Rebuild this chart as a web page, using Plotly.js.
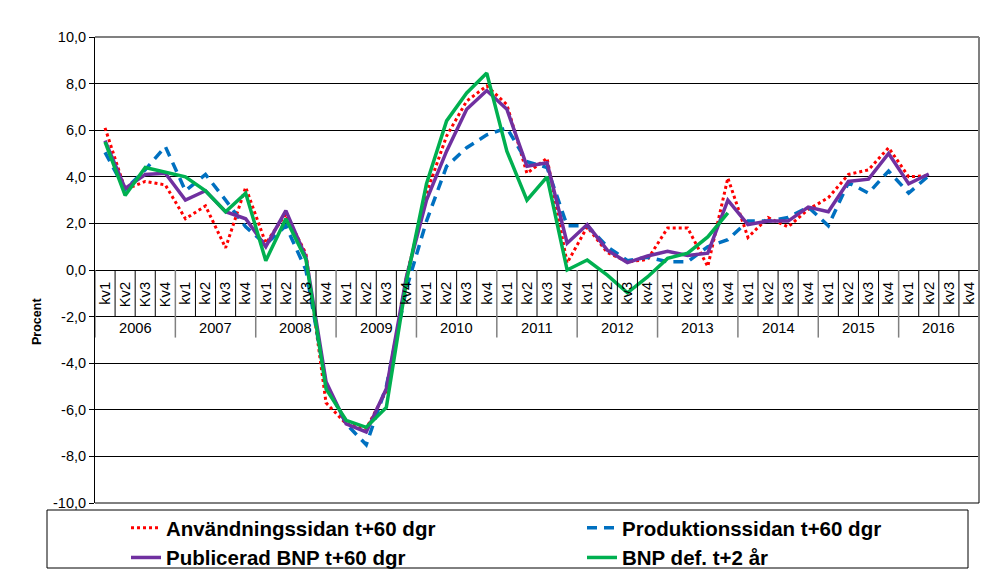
<!DOCTYPE html>
<html>
<head>
<meta charset="utf-8">
<script src="https://cdn.plot.ly/plotly-3.0.1.min.js"></script>
<style>html,body{margin:0;padding:0;background:#fff;}#chart{width:1008px;height:572px;}</style>
</head>
<body>
<div id="chart"></div>
<script>
const years = ['2006','2007','2008','2009','2010','2011','2012','2013','2014','2015','2016'];
const quarterLabels = [
  'kv1','Kv2','Kv3','Kv4',
  'kv1','kv2','kv3','kv4',
  'kv1','kv2','kv3','kv4',
  'kv1','kv2','kv3','kv4',
  'kv1','kv2','kv3','kv4',
  'kv1','kv2','kv3','kv4',
  'kv1','kv2','kv3','kv4',
  'kv1','kv2','kv3','kv4',
  'kv1','kv2','kv3','kv4',
  'kv1','kv2','kv3','kv4',
  'kv1','kv2','kv3','kv4'
];
const seriesNames = ['Användningssidan t+60 dgr','Produktionssidan t+60 dgr','Publicerad BNP t+60 dgr','BNP def. t+2 år'];

const anvandningssidan = [6.1,3.45,3.8,3.65, 2.2,2.75,0.95,3.55, 1.15,2.4,0.7,-5.7, -6.6,-6.8,-5.2,-0.3,
  3.3,5.75,7.25,7.9, 7.1,4.15,4.8,0.3, 1.85,0.75,0.35,0.45, 1.8,1.8,0.15,3.95, 1.4,2.25,1.85,2.6,
  3.1,4.1,4.3,5.25, 4.0,4.05,null,null];
const produktionssidan = [5.05,3.45,4.3,5.3, 3.4,4.1,3.0,1.85, 1.1,1.9,0.0,-4.9, -6.6,-7.5,-5.0,-0.8,
  2.1,4.45,5.25,5.8, 6.1,4.65,4.4,1.9, 1.9,1.0,0.4,0.55, 0.35,0.35,1.0,1.3, 2.1,2.1,2.25,2.7,
  1.9,3.75,3.3,4.25, 3.3,4.05,null,null];
const publiceradBNP = [5.55,3.5,4.1,4.15, 3.0,3.4,2.5,2.2, 1.0,2.55,0.55,-4.8, -6.6,-6.95,-5.1,-0.3,
  3.0,5.1,6.9,7.7, 6.9,4.45,4.6,1.15, 1.95,0.85,0.32,0.6, 0.8,0.62,0.72,3.0, 1.95,2.1,2.1,2.7,
  2.5,3.8,3.9,5.0, 3.7,4.12,null,null];
const bnpDef = [5.5,3.2,4.4,4.2, 4.0,3.4,2.5,3.3, 0.4,2.2,0.45,-5.1, -6.45,-6.75,-5.9,-0.5,
  3.7,6.4,7.6,8.45, 5.1,3.0,4.0,0.0, 0.43,-0.22,-0.98,-0.3, 0.5,0.72,1.42,2.45, null,null,null,null,
  null,null,null,null, null,null,null,null];

const yTickVals = [-10,-8,-6,-4,-2,0,2,4,6,8,10];
const yTickText = ['-10,0','-8,0','-6,0','-4,0','-2,0','0,0','2,0','4,0','6,0','8,0','10,0'];

const cats = [];
years.forEach(y => { for (let q = 1; q <= 4; q++) cats.push(y + '-' + q); });

const FONT = 'Liberation Sans, Arial, sans-serif';

const traces = [
  {name: seriesNames[0], x: cats, y: anvandningssidan, mode: 'lines', legend: 'legend',
   line: {color: '#FF0000', width: 3, dash: 'dot'}},
  {name: seriesNames[1], x: cats, y: produktionssidan, mode: 'lines', legend: 'legend2',
   line: {color: '#0070C0', width: 3.5, dash: '10px,7px'}},
  {name: seriesNames[2], x: cats, y: publiceradBNP, mode: 'lines', legend: 'legend',
   line: {color: '#7030A0', width: 3.5}},
  {name: seriesNames[3], x: cats, y: bnpDef, mode: 'lines', legend: 'legend2',
   line: {color: '#00B050', width: 3.5}}
];

const shapes = [];
const n = cats.length;
for (let b = 0; b <= n; b++) {
  const isYear = (b % 4 === 0);
  shapes.push({type: 'line', xref: 'x', yref: 'y', x0: b - 0.5, x1: b - 0.5,
    y0: 0, y1: isYear ? -2.9 : -2,
    line: {color: isYear ? '#808080' : '#000000', width: isYear ? 1.5 : 1}, layer: 'above'});
}
shapes.push({type: 'line', xref: 'paper', yref: 'paper', x0: 0, x1: 1, y0: 1, y1: 1, line: {color: '#808080', width: 2}});
shapes.push({type: 'line', xref: 'paper', yref: 'paper', x0: 1, x1: 1, y0: 0, y1: 1, line: {color: '#808080', width: 2}});
shapes.push({type: 'line', xref: 'paper', yref: 'paper', x0: 0, x1: 1, y0: 0, y1: 0, line: {color: '#000000', width: 1}});
shapes.push({type: 'rect', xref: 'paper', yref: 'paper',
  x0: (47 - 95) / 884, x1: (968 - 95) / 884, y0: (503 - 568) / 466, y1: (503 - 510) / 466,
  line: {color: '#000000', width: 1}, fillcolor: 'rgba(0,0,0,0)'});

const annotations = years.map((y, k) => ({
  text: y, xref: 'x', yref: 'y', x: 4 * k + 1.5, y: -2.47, showarrow: false,
  font: {family: FONT, size: 14.7, color: '#000'}
}));
annotations.push({text: 'Procent', xref: 'paper', yref: 'paper', x: (37 - 95) / 884, y: (503 - 322) / 466,
  xanchor: 'center', yanchor: 'middle',
  textangle: -90, showarrow: false, font: {family: FONT, size: 12.5, color: '#000', weight: 'bold'}});

const legendFont = {family: FONT, size: 20.5, color: '#000', weight: 'bold'};
const legendY = (503 - 508) / 466;

const layout = {
  width: 1008, height: 572,
  margin: {l: 95, r: 29, t: 37, b: 69, pad: 0, autoexpand: false},
  paper_bgcolor: '#ffffff', plot_bgcolor: '#ffffff',
  font: {family: FONT, color: '#000'},
  showlegend: true,
  legend: {orientation: 'v', x: (126 - 95) / 884, xanchor: 'left', y: legendY, yanchor: 'top',
    bgcolor: 'rgba(0,0,0,0)', borderwidth: 0, font: legendFont, traceorder: 'normal', tracegroupgap: 0},
  legend2: {orientation: 'v', x: (582 - 95) / 884, xanchor: 'left', y: legendY, yanchor: 'top',
    bgcolor: 'rgba(0,0,0,0)', borderwidth: 0, font: legendFont, traceorder: 'normal', tracegroupgap: 0},
  xaxis: {type: 'category', anchor: 'free', position: 0.5, range: [-0.5, n - 0.5],
    tickvals: cats, ticktext: quarterLabels, tickangle: -90, ticks: '', showgrid: false,
    zeroline: false, showline: false, ticklabelstandoff: 8,
    tickfont: {family: FONT, size: 14.7, color: '#000'}},
  yaxis: {range: [-10, 10], tickvals: yTickVals, ticktext: yTickText, showgrid: true,
    gridcolor: '#000000', gridwidth: 1, zeroline: true, zerolinecolor: '#000000', zerolinewidth: 1,
    showline: true, linecolor: '#000000', linewidth: 1, ticks: 'outside', ticklen: 5,
    tickcolor: '#000000', tickfont: {family: FONT, size: 14.5, color: '#000'}},
  shapes: shapes,
  annotations: annotations
};

Plotly.newPlot('chart', traces, layout, {displayModeBar: false, staticPlot: true});
</script>
</body>
</html>
